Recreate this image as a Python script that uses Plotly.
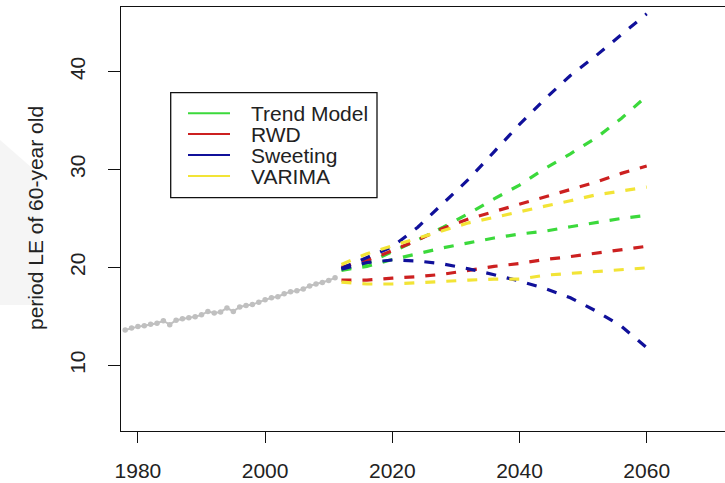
import plotly.graph_objects as go

# ---------------- data ----------------
hist_years = list(range(1978, 2012))
hist_le = [13.6, 13.8, 13.95, 14.05, 14.2, 14.3, 14.55, 14.15, 14.6, 14.75,
           14.85, 14.95, 15.15, 15.5, 15.35, 15.45, 15.85, 15.5, 15.95, 16.1,
           16.2, 16.45, 16.7, 16.9, 17.0, 17.3, 17.5, 17.6, 17.8, 18.1,
           18.3, 18.45, 18.65, 18.95]

fc_years = [2012, 2016, 2020, 2024, 2028, 2032, 2036, 2040, 2044, 2048, 2052, 2056, 2060]

trend_hi = [19.8, 20.4, 21.6, 22.8, 24.1, 25.5, 27.0, 28.4, 30.1, 31.6, 33.2, 35.2, 37.5]
trend_lo = [19.7, 20.1, 20.8, 21.4, 22.0, 22.5, 23.0, 23.4, 23.7, 24.15, 24.6, 25.0, 25.3]
rwd_hi = [20.0, 20.7, 21.7, 22.8, 24.0, 24.95, 25.7, 26.45, 27.2, 27.95, 28.7, 29.6, 30.35]
rwd_lo = [18.7, 18.7, 18.9, 19.05, 19.3, 19.7, 20.1, 20.4, 20.8, 21.1, 21.45, 21.85, 22.15]
sweet_hi = [19.9, 21.0, 22.1, 24.1, 26.5, 29.0, 31.8, 34.6, 37.2, 39.6, 41.6, 43.7, 45.9]
sweet_lo = [19.8, 20.5, 20.75, 20.65, 20.35, 19.85, 19.25, 18.6, 17.85, 16.9, 15.55, 14.0, 11.8]
varima_hi = [20.3, 21.4, 22.2, 23.0, 23.8, 24.55, 25.1, 25.7, 26.25, 26.8, 27.4, 27.8, 28.2]
varima_lo = [18.5, 18.3, 18.3, 18.45, 18.6, 18.7, 18.8, 18.8, 19.2, 19.4, 19.6, 19.75, 19.95]

models = ["Trend Model", "RWD", "Sweeting", "VARIMA"]
model_colors = ["#3BD93B", "#CC2020", "#10109A", "#F2E436"]
model_bounds = [(trend_hi, trend_lo), (rwd_hi, rwd_lo), (sweet_hi, sweet_lo), (varima_hi, varima_lo)]

x_ticks = [1980, 2000, 2020, 2040, 2060]
y_ticks = [10, 20, 30, 40]
y_title = "period LE of 60-year old"

# ---------------- layout geometry ----------------
W, H = 725, 483
L, T, B = 121, 7, 431
R_ = W
FONT = "Liberation Sans, Arial, sans-serif"


def px(xp):
    return (xp - L) / (R_ - L)


def py(yp):
    return (B - yp) / (B - T)


fig = go.Figure()

fig.add_trace(go.Scatter(
    x=hist_years, y=hist_le, mode="lines+markers",
    line=dict(color="#C0C0C0", width=2),
    marker=dict(color="#C0C0C0", size=5.5),
    showlegend=False, hoverinfo="skip"))

for name, col, (hi, lo) in zip(models, model_colors, model_bounds):
    for series in (hi, lo):
        fig.add_trace(go.Scatter(
            x=fc_years, y=series, mode="lines",
            line=dict(color=col, width=3.2, dash="10px,11px"),
            showlegend=False, name=name))

shapes = []
# faint watermark block at far left
shapes.append(dict(type="path", xref="paper", yref="paper", layer="below",
                   path=f"M {px(0)},{py(140)} L {px(40)},{py(175)} L {px(40)},{py(305)} L {px(0)},{py(305)} Z",
                   fillcolor="#F5F5F5", line=dict(width=0)))
# legend box
shapes.append(dict(type="rect", xref="paper", yref="paper",
                   x0=px(170.7), x1=px(377), y0=py(92.7), y1=py(197.7),
                   fillcolor="white", line=dict(color="#111111", width=1.3)))
annotations = []
row_y = [113.3, 134, 155, 176]
for name, col, yy in zip(models, model_colors, row_y):
    shapes.append(dict(type="line", xref="paper", yref="paper",
                       x0=px(188), x1=px(230), y0=py(yy), y1=py(yy),
                       line=dict(color=col, width=2)))
    annotations.append(dict(text=name, xref="paper", yref="paper",
                            x=px(249), y=py(yy), xanchor="left", yanchor="middle",
                            showarrow=False, font=dict(family=FONT, size=21, color="#222222")))

annotations.append(dict(text=y_title, xref="paper", yref="paper",
                        x=px(35), y=py(218), xanchor="center", yanchor="middle",
                        textangle=-90, showarrow=False,
                        font=dict(family=FONT, size=21, color="#222222")))

fig.update_layout(
    width=W, height=H,
    margin=dict(l=L, r=W - R_, t=T, b=H - B, pad=0),
    paper_bgcolor="white", plot_bgcolor="white",
    shapes=shapes, annotations=annotations,
    font=dict(family=FONT, size=21, color="#222222"),
    xaxis=dict(range=[1977.34, 2072.31], tickvals=x_ticks, ticktext=[str(v) for v in x_ticks],
               showgrid=False, zeroline=False, showline=True, mirror=True,
               linecolor="#111111", linewidth=1.3,
               ticks="outside", ticklen=11, tickwidth=1.2, tickcolor="#111111",
               ticklabelstandoff=10,
               tickfont=dict(family=FONT, size=21, color="#222222")),
    yaxis=dict(range=[3.29, 46.59], tickvals=y_ticks, ticktext=[str(v) for v in y_ticks],
               showgrid=False, zeroline=False, showline=True, mirror=False,
               linecolor="#111111", linewidth=1.3,
               ticks="outside", ticklen=12, tickwidth=1.2, tickcolor="#111111",
               tickangle=-90, ticklabelstandoff=14,
               tickfont=dict(family=FONT, size=21, color="#222222")),
)

fig.write_html("out.html")
